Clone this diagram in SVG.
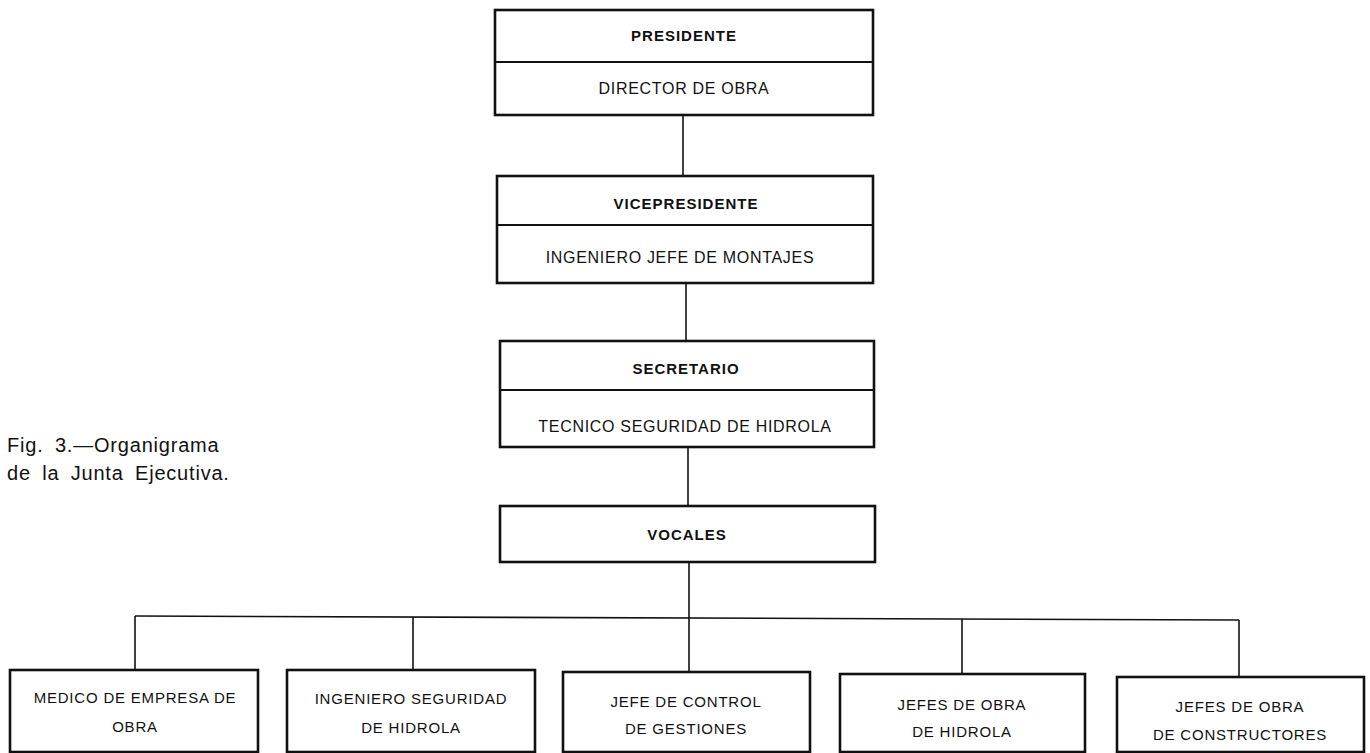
<svg xmlns="http://www.w3.org/2000/svg" width="1370" height="753" viewBox="0 0 1370 753">
<style>
.box{fill:#fff;stroke:#111;stroke-width:2.6}
.div{stroke:#111;stroke-width:2}
.con{stroke:#111;stroke-width:1.6;fill:none}
.h{font-family:"Liberation Sans",Arial,sans-serif;font-weight:bold;font-size:15px;letter-spacing:1px;text-anchor:middle;fill:#111}
.t{font-family:"Liberation Sans",Arial,sans-serif;font-size:16px;letter-spacing:0.7px;text-anchor:middle;fill:#111}
.b{font-family:"Liberation Sans",Arial,sans-serif;font-size:15px;letter-spacing:0.8px;text-anchor:middle;fill:#111}
.cap{font-family:"Liberation Sans",Arial,sans-serif;font-size:20px;letter-spacing:0.8px;word-spacing:5px;fill:#111}
</style>
<rect width="1370" height="753" fill="#fff"/>
<g id="connectors">
<line class="con" x1="683" y1="115" x2="683" y2="176"/>
<line class="con" x1="686" y1="283" x2="686" y2="341"/>
<line class="con" x1="688" y1="447" x2="688" y2="506"/>
<line class="con" x1="689" y1="562" x2="689" y2="617"/>
<line class="con" x1="135" y1="616" x2="1239" y2="620"/>
<line class="con" x1="135" y1="616" x2="135" y2="670"/>
<line class="con" x1="413" y1="617" x2="413" y2="670"/>
<line class="con" x1="689" y1="617" x2="689" y2="672"/>
<line class="con" x1="962" y1="619" x2="962" y2="674"/>
<line class="con" x1="1239" y1="620" x2="1239" y2="677"/>
</g>
<g id="presidente">
<rect class="box" x="495" y="10" width="378" height="105"/>
<line class="div" x1="495" y1="62" x2="873" y2="62"/>
<text class="h" x="684" y="41">PRESIDENTE</text>
<text class="t" x="684" y="94">DIRECTOR DE OBRA</text>
</g>
<g id="vicepresidente">
<rect class="box" x="497" y="176" width="376" height="107"/>
<line class="div" x1="497" y1="225" x2="873" y2="225"/>
<text class="h" x="686" y="209">VICEPRESIDENTE</text>
<text class="t" x="680" y="263">INGENIERO JEFE DE MONTAJES</text>
</g>
<g id="secretario">
<rect class="box" x="500" y="341" width="374" height="106"/>
<line class="div" x1="500" y1="390" x2="874" y2="390"/>
<text class="h" x="686" y="374">SECRETARIO</text>
<text class="t" x="685" y="432">TECNICO SEGURIDAD DE HIDROLA</text>
</g>
<g id="vocales">
<rect class="box" x="500" y="506" width="375" height="56"/>
<text class="h" x="687" y="540">VOCALES</text>
</g>
<g id="medico">
<rect class="box" x="10" y="670" width="248" height="82"/>
<text class="b" x="135" y="703">MEDICO DE EMPRESA DE</text>
<text class="b" x="135" y="732">OBRA</text>
</g>
<g id="ingeniero-seguridad">
<rect class="box" x="287" y="670" width="248" height="82"/>
<text class="b" x="411" y="704">INGENIERO SEGURIDAD</text>
<text class="b" x="411" y="733">DE HIDROLA</text>
</g>
<g id="jefe-control">
<rect class="box" x="563" y="672" width="247" height="80"/>
<text class="b" x="686" y="707">JEFE DE CONTROL</text>
<text class="b" x="686" y="734">DE GESTIONES</text>
</g>
<g id="jefes-hidrola">
<rect class="box" x="840" y="674" width="245" height="78"/>
<text class="b" x="962" y="710">JEFES DE OBRA</text>
<text class="b" x="962" y="737">DE HIDROLA</text>
</g>
<g id="jefes-constructores">
<rect class="box" x="1117" y="677" width="247" height="75"/>
<text class="b" x="1240" y="712">JEFES DE OBRA</text>
<text class="b" x="1240" y="740">DE CONSTRUCTORES</text>
</g>
<g id="caption">
<text class="cap" x="7" y="452">Fig. 3.—Organigrama</text>
<text class="cap" x="7" y="480">de la Junta Ejecutiva.</text>
</g>
</svg>
